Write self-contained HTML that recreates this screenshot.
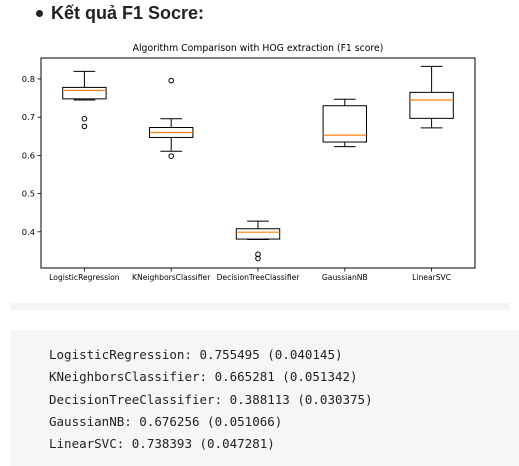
<!DOCTYPE html>
<html><head><meta charset="utf-8"><style>
body{margin:0;width:519px;height:466px;background:#fff;position:relative;overflow:hidden;font-family:"Liberation Sans",sans-serif}
#hdr{position:absolute;left:51px;top:3px;font-size:18px;font-weight:bold;color:#222}
#bul{position:absolute;left:36px;top:10px;width:7px;height:7px;border-radius:50%;background:#222}
#sep{position:absolute;left:11px;top:303px;width:499px;height:7px;background:#f4f4f4}
#code{position:absolute;left:11px;top:330px;width:508px;height:136px;background:#f6f6f6}
#code pre{margin:0;position:absolute;left:38px;top:14px;font-family:"DejaVu Sans Mono","Liberation Mono",monospace;font-size:12.5px;line-height:22.3px;color:#222}
</style></head><body>
<div id="bul"></div>
<div id="hdr">Kết quả F1 Socre:</div>
<svg id="chart" width="519" height="300" style="position:absolute;left:0;top:0" font-family="DejaVu Sans, Liberation Sans, sans-serif"></svg>
<div id="sep"></div>
<div id="code"><pre>LogisticRegression: 0.755495 (0.040145)
KNeighborsClassifier: 0.665281 (0.051342)
DecisionTreeClassifier: 0.388113 (0.030375)
GaussianNB: 0.676256 (0.051066)
LinearSVC: 0.738393 (0.047281)</pre></div>
<script>
const categories=["LogisticRegression","KNeighborsClassifier","DecisionTreeClassifier","GaussianNB","LinearSVC"];
const whiskerLow=[0.745,0.611,0.380,0.623,0.672];
const q1=[0.748,0.647,0.381,0.635,0.697];
const median=[0.770,0.660,0.399,0.653,0.745];
const q3=[0.778,0.673,0.408,0.730,0.765];
const whiskerHigh=[0.820,0.696,0.428,0.747,0.833];
const outliers=[[0.696,0.676],[0.796,0.598],[0.341,0.330],[],[]];
const yTicks=[0.4,0.5,0.6,0.7,0.8];
const yTickLabels=["0.4","0.5","0.6","0.7","0.8"];
const NS="http://www.w3.org/2000/svg";
const svg=document.getElementById('chart');
const L=41,R=475,T=58,B=268;
const y=v=>79+(0.8-v)*382;
const x=i=>L+(i+0.5)*(R-L)/categories.length;
const hw=0.25*(R-L)/categories.length;
function mk(t,a){const e=document.createElementNS(NS,t);for(const k in a)e.setAttribute(k,a[k]);svg.appendChild(e);return e;}
let e=mk('text',{x:(L+R)/2,y:51,'text-anchor':'middle','font-size':'9.3',fill:'#000'});
e.textContent="Algorithm Comparison with HOG extraction (F1 score)";


e=mk('rect',{x:L,y:T,width:R-L,height:B-T,fill:'none',stroke:'#000','stroke-width':1});


yTicks.forEach((v,i)=>{
 const t=mk('line',{x1:L-3.5,x2:L,y1:y(v),y2:y(v),stroke:'#000','stroke-width':0.8});
 
 
 const l=mk('text',{x:L-6,y:y(v)+3,'text-anchor':'end','font-size':'8.3',fill:'#000'});
 l.textContent=yTickLabels[i];
 
 
});
categories.forEach((c,i)=>{
 const cx=x(i);
 const g=document.createElementNS(NS,'g');svg.appendChild(g);
 
 
 const add=(t,a)=>{const el=document.createElementNS(NS,t);for(const k in a)el.setAttribute(k,a[k]);g.appendChild(el);return el;};
 const s={stroke:'#000','stroke-width':1,fill:'none'};
 add('line',Object.assign({x1:cx,x2:cx,y1:y(whiskerHigh[i]),y2:y(q3[i])},s));
 add('line',Object.assign({x1:cx,x2:cx,y1:y(q1[i]),y2:y(whiskerLow[i])},s));
 add('line',Object.assign({x1:cx-hw/2,x2:cx+hw/2,y1:y(whiskerHigh[i]),y2:y(whiskerHigh[i])},s));
 add('line',Object.assign({x1:cx-hw/2,x2:cx+hw/2,y1:y(whiskerLow[i]),y2:y(whiskerLow[i])},s));
 add('rect',Object.assign({x:cx-hw,y:y(q3[i]),width:2*hw,height:y(q1[i])-y(q3[i])},s));
 add('line',{x1:cx-hw,x2:cx+hw,y1:y(median[i]),y2:y(median[i]),stroke:'#ff7f0e','stroke-width':1.2});
 outliers[i].forEach(o=>add('circle',Object.assign({cx:cx,cy:y(o),r:2.3},s)));
 const t=mk('line',{x1:cx,x2:cx,y1:B,y2:B+3.5,stroke:'#000','stroke-width':0.8});
 
 
 const l=mk('text',{x:cx,y:B+12,'text-anchor':'middle','font-size':'7.6',fill:'#000'});
 l.textContent=c;
 
 
});
</script>
</body></html>
